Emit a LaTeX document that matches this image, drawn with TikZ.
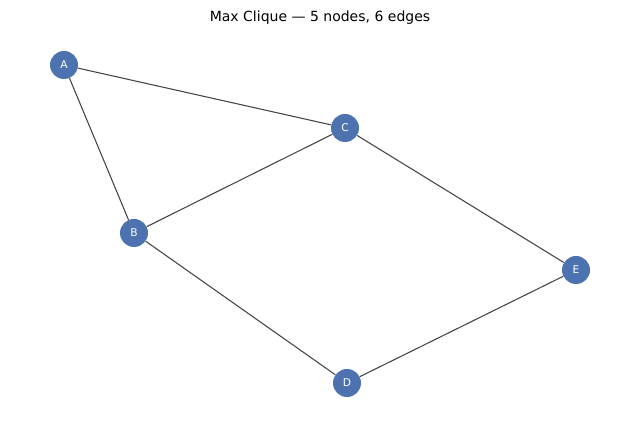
\documentclass[tikz,border=0pt]{standalone}
\usepackage{fontspec}
\setmainfont{DejaVu Sans}
\usetikzlibrary{positioning}
\definecolor{cqBlue}{RGB}{76, 114, 176}
\definecolor{cqEdge}{RGB}{68, 68, 68}
\tikzset{
    vertex/.style={
        circle,
        fill=cqBlue,
        text=white,
        font=\fontsize{8}{9}\selectfont,
        inner sep=0pt,
        minimum size=21pt
    },
    link/.style={
        draw=cqEdge,
        line width=0.8pt
    }
}
\begin{document}
\begin{tikzpicture}[x=0.75pt, y=-0.75pt]
    \useasboundingbox (0,0) rectangle (640,427);

    % Title
    \node (title) at (320,18) {\fontsize{10.5}{12}\selectfont Max Clique — 5 nodes, 6 edges};

    % Vertices
    \node[vertex] (A) at (64,65) {A};
    \node[vertex] (B) at (134,233) {B};
    \node[vertex] (C) at (345,128) {C};
    \node[vertex] (D) at (347,383) {D};
    \node[vertex] (E) at (576,270) {E};

    % Edges
    \begin{scope}[on background layer/.style={}]
    \draw[link] (A) -- (C);
    \draw[link] (A) -- (B);
    \draw[link] (B) -- (C);
    \draw[link] (C) -- (E);
    \draw[link] (B) -- (D);
    \draw[link] (D) -- (E);
    \end{scope}
\end{tikzpicture}
\end{document}
